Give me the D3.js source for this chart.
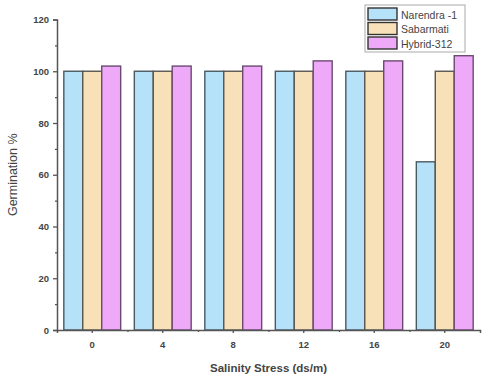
<!DOCTYPE html>
<html><head><meta charset="utf-8">
<script src="https://cdn.jsdelivr.net/npm/d3@7"></script>
<style>html,body{margin:0;padding:0;background:#fff;}svg{display:block;font-family:"Liberation Sans",Arial,sans-serif;}</style>
</head><body>
<svg id="c" width="489" height="380"></svg>
<script>
const categories = ["0","4","8","12","16","20"];
const seriesNames = ["Narendra -1","Sabarmati","Hybrid-312"];
const narendra = [100,100,100,100,100,65];
const sabarmati = [100,100,100,100,100,100];
const hybrid = [102,102,102,104,104,106];
const yTicks = [0,20,40,60,80,100,120];
const yMinor = [10,30,50,70,90,110];

const fills = ["#b5e2f8","#f8e0b8","#eeaaf8"];
const strokes = ["#4a5a62","#5a5650","#6a4a70"];
const values = [narendra, sabarmati, hybrid];

const svg = d3.select("#c");
const m = {l:57, r:9, t:19.5, b:50};
const W = 489, H = 380;
const x = d3.scaleBand().domain(categories).range([m.l, W-m.r]).padding(0);
const inner = d3.scaleBand().domain(seriesNames).range([0, x.bandwidth()]).paddingInner(0).paddingOuter(0.36);
const y = d3.scaleLinear().domain([0,120]).range([H-m.b, m.t]);

// bars
seriesNames.forEach((s,si)=>{
  svg.append("g").selectAll("rect").data(categories).join("rect")
    .attr("x", c=>x(c)+inner(s))
    .attr("y", (c,i)=>y(values[si][i]))
    .attr("width", inner.bandwidth())
    .attr("height", (c,i)=>y(0)-y(values[si][i]))
    .attr("fill", fills[si]).attr("stroke", strokes[si]).attr("stroke-width",1.4);
});

// y axis
svg.append("g").attr("transform",`translate(${m.l},0)`)
  .call(d3.axisLeft(y).tickValues(yTicks).tickSize(4).tickPadding(4));
svg.append("g").attr("transform",`translate(${m.l},0)`)
  .call(d3.axisLeft(y).tickValues(yMinor).tickSize(2).tickFormat(""))
  .call(g=>g.select(".domain").remove());
// x axis
svg.append("g").attr("transform",`translate(0,${H-m.b})`)
  .call(d3.axisBottom(x).tickSize(3).tickPadding(8));
svg.append("g").attr("transform",`translate(0,${H-m.b})`)
  .call(d3.axisBottom(d3.scaleLinear().domain([0,6]).range([m.l, W-m.r])).tickValues([1,2,3,4,5]).tickSize(2).tickFormat(""))
  .call(g=>g.select(".domain").remove());

svg.selectAll(".domain").attr("stroke","#555").attr("stroke-width",1.5);
svg.selectAll(".tick line").attr("stroke","#555").attr("stroke-width",1.3);
svg.selectAll(".tick text").attr("font-size",9.5).attr("font-weight","bold").attr("fill","#444")
  .attr("font-family","Liberation Sans, Arial, sans-serif");

// titles
svg.append("text").attr("x",(m.l+W-m.r)/2).attr("y",372).attr("text-anchor","middle")
  .attr("font-size",11.5).attr("font-weight","bold").attr("fill","#444").text("Salinity Stress (ds/m)");
svg.append("text").attr("transform",`translate(17,${(m.t+H-m.b)/2}) rotate(-90)`).attr("text-anchor","middle")
  .attr("font-size",12.5).attr("fill","#444").text("Germination %");

// legend
const lg = svg.append("g").attr("transform","translate(365,5)");
lg.append("rect").attr("width",100).attr("height",47).attr("fill","#fff").attr("stroke","#aaa").attr("stroke-width",1);
seriesNames.forEach((s,i)=>{
  lg.append("rect").attr("x",3).attr("y",3+i*14.5).attr("width",29).attr("height",12)
    .attr("fill",fills[i]).attr("stroke","#333").attr("stroke-width",1.4);
  lg.append("text").attr("x",36).attr("y",13.5+i*14.5).attr("font-size",10.5).attr("fill","#444").text(s);
});
</script>
</body></html>
